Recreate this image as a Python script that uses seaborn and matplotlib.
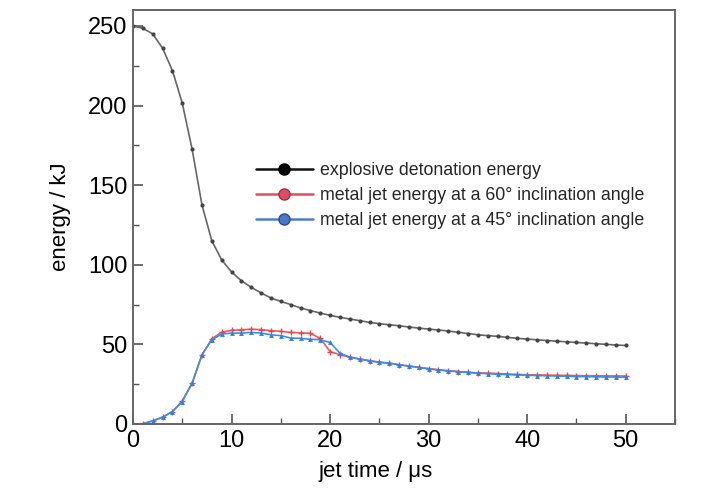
import matplotlib
matplotlib.use("Agg")
import matplotlib.pyplot as plt
from matplotlib.lines import Line2D
from matplotlib.ticker import MultipleLocator
import seaborn as sns
import pandas as pd

time_us = list(range(0, 51))

detonation = [250.0, 248.5, 245.0, 236.0, 222.0, 201.5, 172.5, 137.5, 115.0, 103.0,
              95.5, 90.0, 85.8, 82.3, 79.1, 77.0, 75.0, 72.9, 71.2, 69.7,
              68.2, 67.0, 65.9, 64.9, 63.8, 63.0, 62.3, 61.7, 60.9, 60.2,
              59.6, 59.0, 58.4, 57.6, 56.8, 56.0, 55.5, 55.0, 54.4, 53.8,
              53.3, 52.9, 52.4, 52.0, 51.6, 51.2, 50.8, 50.4, 50.0, 49.6,
              49.3]

jet60 = [0.0, 0.2, 2.0, 4.2, 7.8, 14.5, 25.6, 43.5, 53.5, 57.7,
         58.8, 59.2, 59.5, 59.3, 58.6, 58.2, 57.5, 57.3, 56.9, 53.8,
         45.5, 43.5, 42.0, 40.8, 39.7, 38.8, 38.2, 37.2, 36.4, 35.5,
         34.8, 34.0, 33.4, 32.9, 32.4, 32.1, 31.9, 31.7, 31.4, 31.1,
         30.9, 30.8, 30.7, 30.6, 30.5, 30.4, 30.3, 30.3, 30.2, 30.2,
         30.1]

jet45 = [0.0, 0.0, 2.0, 4.2, 7.8, 14.0, 25.6, 43.5, 52.9, 56.5,
         57.1, 57.1, 57.5, 57.1, 56.0, 55.5, 54.0, 53.8, 53.2, 52.9,
         51.2, 44.5, 42.0, 40.8, 39.7, 38.8, 38.2, 37.2, 36.4, 35.5,
         34.6, 34.0, 33.4, 32.9, 32.4, 31.9, 31.6, 31.3, 31.0, 30.8,
         30.6, 30.4, 30.3, 30.1, 30.0, 29.8, 29.7, 29.6, 29.5, 29.5,
         29.4]

labels = ["explosive detonation energy",
          "metal jet energy at a 60° inclination angle",
          "metal jet energy at a 45° inclination angle"]

sns.set_theme(style="white")
plt.rcParams['font.family'] = ['Liberation Sans', 'DejaVu Sans']

df = pd.DataFrame({"t": time_us, "det": detonation, "j60": jet60, "j45": jet45})

fig = plt.figure(figsize=(7.28, 4.93), dpi=100)
ax = fig.add_axes([0.1827, 0.14, 0.7445, 0.8397])

sns.lineplot(data=df, x="t", y="det", ax=ax, color="#666666", lw=1.2,
             marker="o", markersize=3, markeredgewidth=0, markerfacecolor="#444444")
sns.lineplot(data=df, x="t", y="j60", ax=ax, color="#f05a5a", lw=1.2,
             marker="+", markersize=4, markeredgewidth=1.0, markeredgecolor="#e84848")
sns.lineplot(data=df, x="t", y="j45", ax=ax, color="#3b8fe8", lw=1.2,
             marker="^", markersize=3.5, markeredgewidth=0, markerfacecolor="#2f80e0")

ax.set_xlim(0, 55)
ax.set_ylim(0, 260)
ax.xaxis.set_major_locator(MultipleLocator(10))
ax.xaxis.set_minor_locator(MultipleLocator(5))
ax.yaxis.set_major_locator(MultipleLocator(50))
ax.yaxis.set_minor_locator(MultipleLocator(25))
ax.set_xticks([0, 10, 20, 30, 40, 50])
ax.tick_params(which="both", direction="in", color="#555555", labelsize=17,
               labelcolor="black", bottom=True, left=True)
ax.tick_params(which="major", length=7, width=1.2, pad=4)
ax.tick_params(which="minor", length=4, width=1.0)
for sp in ax.spines.values():
    sp.set_color("#666666")
    sp.set_linewidth(1.4)

ax.set_xlabel("jet time / μs", fontsize=16, color="black")
ax.xaxis.set_label_coords((376 - 133) / 542, -0.09)
ax.set_ylabel("energy / kJ", fontsize=16, color="black", labelpad=12)

handles = [
    Line2D([], [], color="#111111", lw=1.8, marker="o", markersize=8,
           markerfacecolor="#000000", markeredgecolor="#000000"),
    Line2D([], [], color="#e0505a", lw=1.8, marker="o", markersize=8,
           markerfacecolor="#d95060", markeredgecolor="#a03040"),
    Line2D([], [], color="#4a7fd0", lw=1.8, marker="o", markersize=8,
           markerfacecolor="#4a78c8", markeredgecolor="#2a4a90"),
]
ax.legend(handles, labels, loc="upper left", bbox_to_anchor=(0.227, 0.632),
          frameon=False, fontsize=12.8, handlelength=3.2, handletextpad=0.4,
          labelspacing=0.45, borderaxespad=0, borderpad=0)

fig.savefig("out.png", dpi=100)
